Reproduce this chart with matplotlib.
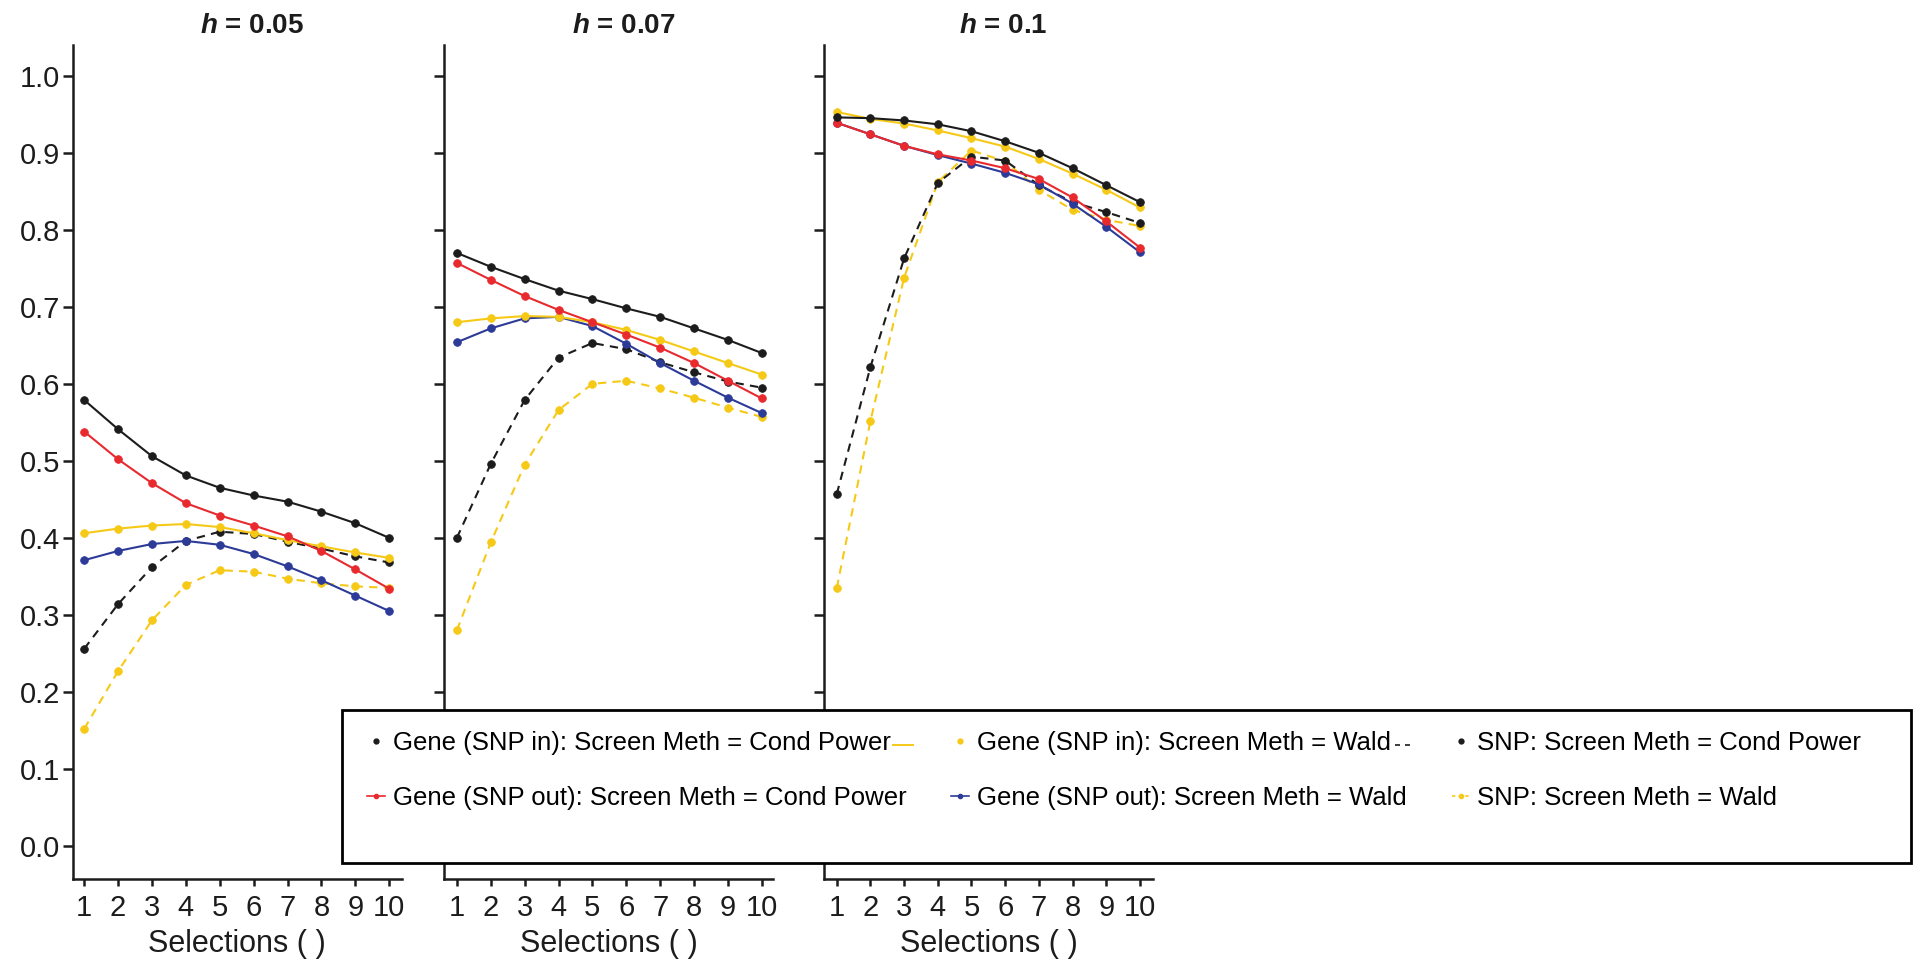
import numpy as np
import matplotlib
matplotlib.use('Agg')
import matplotlib.pyplot as plt
from matplotlib.lines import Line2D
from matplotlib.patches import Rectangle
from matplotlib.transforms import IdentityTransform
from matplotlib import font_manager

# ---------------- data ----------------
selections = [1, 2, 3, 4, 5, 6, 7, 8, 9, 10]
h_values = ['0.05', '0.07', '0.1']

gene_in_cond = [
    [0.579, 0.541, 0.506, 0.481, 0.465, 0.455, 0.447, 0.434, 0.419, 0.400],
    [0.770, 0.752, 0.736, 0.721, 0.710, 0.698, 0.687, 0.672, 0.657, 0.640],
    [0.946, 0.945, 0.942, 0.937, 0.928, 0.915, 0.900, 0.880, 0.858, 0.836]]
gene_out_cond = [
    [0.538, 0.502, 0.471, 0.445, 0.429, 0.416, 0.402, 0.383, 0.359, 0.334],
    [0.757, 0.735, 0.714, 0.696, 0.680, 0.664, 0.647, 0.627, 0.604, 0.581],
    [0.939, 0.924, 0.909, 0.898, 0.890, 0.880, 0.866, 0.842, 0.811, 0.777]]
gene_in_wald = [
    [0.406, 0.412, 0.416, 0.418, 0.414, 0.406, 0.397, 0.389, 0.381, 0.374],
    [0.680, 0.685, 0.688, 0.687, 0.680, 0.670, 0.657, 0.642, 0.627, 0.612],
    [0.953, 0.944, 0.938, 0.929, 0.919, 0.908, 0.892, 0.873, 0.852, 0.829]]
gene_out_wald = [
    [0.371, 0.383, 0.392, 0.396, 0.391, 0.379, 0.363, 0.345, 0.325, 0.305],
    [0.654, 0.672, 0.685, 0.687, 0.675, 0.652, 0.627, 0.604, 0.582, 0.562],
    [0.939, 0.924, 0.909, 0.897, 0.886, 0.874, 0.859, 0.834, 0.804, 0.771]]
snp_cond = [
    [0.256, 0.314, 0.362, 0.396, 0.408, 0.405, 0.395, 0.386, 0.376, 0.368],
    [0.400, 0.496, 0.579, 0.634, 0.653, 0.645, 0.628, 0.615, 0.603, 0.595],
    [0.457, 0.622, 0.763, 0.861, 0.895, 0.890, 0.858, 0.836, 0.823, 0.809]]
snp_wald = [
    [0.152, 0.227, 0.293, 0.339, 0.358, 0.356, 0.347, 0.341, 0.337, 0.335],
    [0.280, 0.394, 0.495, 0.566, 0.600, 0.604, 0.594, 0.582, 0.569, 0.557],
    [0.335, 0.552, 0.738, 0.862, 0.903, 0.889, 0.852, 0.826, 0.813, 0.805]]

labels = ['Gene (SNP in): Screen Meth = Cond Power',
          'Gene (SNP out): Screen Meth = Cond Power',
          'Gene (SNP in): Screen Meth = Wald',
          'Gene (SNP out): Screen Meth = Wald',
          'SNP: Screen Meth = Cond Power',
          'SNP: Screen Meth = Wald']
yticks = [0.0, 0.1, 0.2, 0.3, 0.4, 0.5, 0.6, 0.7, 0.8, 0.9, 1.0]
xlims = [(0.66, 10.37), (0.62, 10.33), (0.62, 10.39)]

# ---------------- style ----------------
C_BLACK = '#1c1c1c'
C_RED = '#e8292e'
C_YELLOW = '#f6c917'
C_BLUE = '#2c3a98'

plt.rcParams['font.family'] = ['Liberation Sans', 'DejaVu Sans']
plt.rcParams['mathtext.fontset'] = 'custom'
plt.rcParams['mathtext.rm'] = 'Liberation Sans:bold'
plt.rcParams['mathtext.it'] = 'Liberation Sans:italic:bold'
if 'mathtext.bfit' in plt.rcParams:
    plt.rcParams['mathtext.bfit'] = 'Liberation Sans:italic:bold'

names = {f.name for f in font_manager.fontManager.ttflist}
if 'Liberation Sans Narrow' in names:
    leg_family, leg_size = 'Liberation Sans Narrow', 22.5
else:
    leg_family, leg_size = 'Liberation Sans', 18.5

W, H = 1917, 965
fig = plt.figure(figsize=(W / 100, H / 100), dpi=100)
fig.patch.set_facecolor('white')

ax_left_px = [72.7, 444, 824]
ax_w = 329
bottom_px, top_px = 879, 45

series = [
    (snp_wald, C_YELLOW, '--'),
    (snp_cond, C_BLACK, '--'),
    (gene_out_wald, C_BLUE, '-'),
    (gene_in_wald, C_YELLOW, '-'),
    (gene_out_cond, C_RED, '-'),
    (gene_in_cond, C_BLACK, '-'),
]

for i, lp in enumerate(ax_left_px):
    ax = fig.add_axes([lp / W, 1 - bottom_px / H, ax_w / W, (bottom_px - top_px) / H])
    for data, col, ls in series:
        if ls == '--':
            ax.plot(selections, data[i], color=col, ls=ls, lw=1.5, dashes=(4, 3),
                    marker='o', ms=5.5, mec=col, mew=0.6)
        else:
            ax.plot(selections, data[i], color=col, ls=ls, lw=1.5,
                    marker='o', ms=5.5, mec=col, mew=0.6)
    ax.set_xlim(*xlims[i])
    ax.set_ylim(-0.043, 1.040)
    ax.set_xticks(selections)
    ax.set_yticks(yticks)
    ax.spines['top'].set_visible(False)
    ax.spines['right'].set_visible(False)
    for s in ('left', 'bottom'):
        ax.spines[s].set_linewidth(1.8)
        ax.spines[s].set_color(C_BLACK)
    ax.tick_params(axis='y', direction='out', length=7, width=1.8, pad=2,
                   labelsize=21, colors=C_BLACK, labelleft=(i == 0))
    ax.tick_params(axis='x', direction='out', length=5, width=1.8, pad=6,
                   labelsize=21, colors=C_BLACK)
    if i == 0:
        ax.set_yticklabels(['%.1f' % v for v in yticks])
    ax.set_xlabel('Selections ( )', fontsize=22, labelpad=5, color=C_BLACK)
    ax.text(0.545, 1 + 12 / 834, r'$\mathit{h}$ = ' + h_values[i],
            transform=ax.transAxes, ha='center', va='baseline',
            fontsize=20, fontweight='bold', color=C_BLACK)

# ---------------- legend ----------------
box = Rectangle((342 / W, 1 - 863 / H), (1911 - 342) / W, (863 - 710) / H,
                transform=fig.transFigure, facecolor='white', edgecolor='black',
                lw=2, zorder=4)
fig.add_artist(box)

handles = [
    Line2D([], [], color=C_BLACK, marker='o', ls='none', ms=3.5),
    Line2D([], [], color=C_RED, marker='o', ls='-', lw=1.2, ms=3),
    Line2D([], [], color=C_YELLOW, marker='o', ls='none', ms=3.5),
    Line2D([], [], color=C_BLUE, marker='o', ls='-', lw=1.2, ms=3),
    Line2D([], [], color=C_BLACK, marker='o', ls='none', ms=3.5),
    Line2D([], [], color=C_YELLOW, marker='o', ls='--', lw=1.2, ms=3, dashes=(2, 2)),
]
leg = fig.legend(handles, labels, ncol=3, loc='upper left',
                 bbox_to_anchor=(367 / W, 1 - 731 / H), frameon=False,
                 prop={'family': leg_family, 'size': leg_size},
                 handlelength=0.7, handletextpad=0.3, columnspacing=1.75,
                 labelspacing=1.19, borderpad=0, borderaxespad=0)
leg.set_zorder(6)

fig.canvas.draw()
rend = fig.canvas.get_renderer()
texts = leg.get_texts()
b0 = texts[0].get_window_extent(rend)
b2 = texts[2].get_window_extent(rend)
yc0 = (b0.y0 + b0.y1) / 2 - 2
fig.add_artist(Line2D([b0.x1 + 2, b0.x1 + 22], [yc0, yc0], color=C_YELLOW, lw=1.4,
                      transform=IdentityTransform(), zorder=7))
yc2 = (b2.y0 + b2.y1) / 2 - 2
fig.add_artist(Line2D([b2.x1 + 4, b2.x1 + 22], [yc2, yc2], color=C_BLACK, lw=1.2,
                      ls='--', dashes=(3, 3), transform=IdentityTransform(), zorder=7))

fig.savefig('out.png', dpi=100, facecolor='white')
